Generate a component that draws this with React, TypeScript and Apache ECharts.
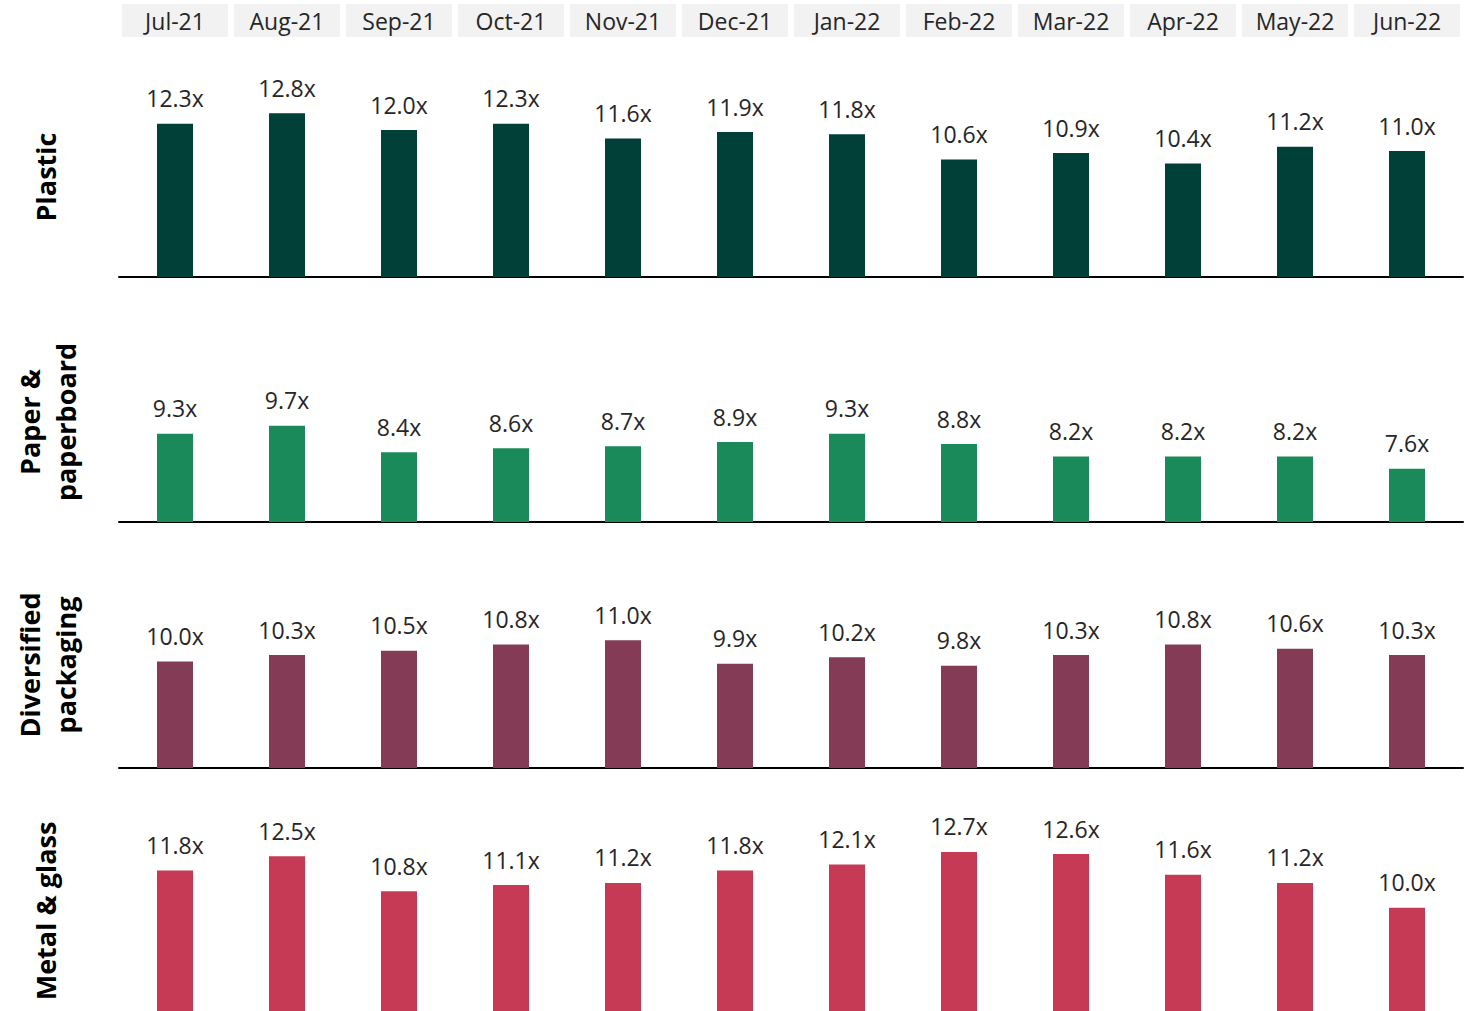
import React, { useEffect, useRef } from "react";
import * as echarts from "echarts";

const months = ["Jul-21", "Aug-21", "Sep-21", "Oct-21", "Nov-21", "Dec-21", "Jan-22", "Feb-22", "Mar-22", "Apr-22", "May-22", "Jun-22"];
const rowNames = ["Plastic", "Paper &\npaperboard", "Diversified\npackaging", "Metal & glass"];
const plastic = [12.3, 12.8, 12.0, 12.3, 11.6, 11.9, 11.8, 10.6, 10.9, 10.4, 11.2, 11.0];
const paper = [9.3, 9.7, 8.4, 8.6, 8.7, 8.9, 9.3, 8.8, 8.2, 8.2, 8.2, 7.6];
const diversified = [10.0, 10.3, 10.5, 10.8, 11.0, 9.9, 10.2, 9.8, 10.3, 10.8, 10.6, 10.3];
const metal = [11.8, 12.5, 10.8, 11.1, 11.2, 11.8, 12.1, 12.7, 12.6, 11.6, 11.2, 10.0];
const seriesData = [plastic, paper, diversified, metal];
const colors = ["#013f39", "#1b8a5a", "#833b56", "#c73a55"];

// layout (px)
const grids = [
  { top: 67, height: 210, axisLine: true },
  { top: 317, height: 205, axisLine: true },
  { top: 555, height: 213, axisLine: true },
  { top: 804.5, height: 211, axisLine: false },
];
const labelCenters = [
  { x: 45, y: 177 },
  { x: 47, y: 422 },
  { x: 47, y: 665 },
  { x: 45, y: 911 },
];

export default function App() {
  const ref = useRef<HTMLDivElement>(null);
  useEffect(() => {
    if (!ref.current) return;
    const chart = echarts.init(ref.current, null, { renderer: "svg" });
    const font = "'Open Sans', sans-serif";
    const option: any = {
      animation: false,
      backgroundColor: "#ffffff",
      grid: grids.map((g) => ({ left: 119, right: 8, top: g.top, height: g.height })),
      xAxis: [
        ...grids.map((g, i) => ({
          type: "category",
          gridIndex: i,
          data: months,
          axisLabel: { show: false },
          axisTick: { show: false },
          axisLine: { show: g.axisLine, lineStyle: { color: "#000000", width: 2 } },
        })),
        {
          type: "category",
          gridIndex: 0,
          position: "top",
          offset: 30,
          data: months,
          axisLine: { show: false },
          axisTick: { show: false },
          axisLabel: {
            margin: 0,
            interval: 0,
            color: "#262626",
            fontFamily: font,
            fontSize: 23,
            backgroundColor: "#f2f2f2",
            width: 106,
            height: 33,
            lineHeight: 33,
            align: "center",
          },
        },
      ],
      yAxis: grids.map((_, i) => ({
        type: "value",
        gridIndex: i,
        min: 5,
        max: 15,
        show: false,
        splitLine: { show: false },
      })),
      series: seriesData.map((d, i) => ({
        type: "bar",
        xAxisIndex: i,
        yAxisIndex: i,
        data: d,
        barWidth: 36,
        itemStyle: { color: colors[i] },
        label: {
          show: true,
          position: "top",
          distance: 14,
          color: "#262626",
          fontFamily: font,
          fontSize: 23,
          formatter: (p: any) => Number(p.value).toFixed(1) + "x",
        },
      })),
      graphic: rowNames.map((name, i) => ({
        type: "text",
        x: labelCenters[i].x,
        y: labelCenters[i].y,
        rotation: Math.PI / 2,
        style: {
          text: name,
          align: "center",
          verticalAlign: "middle",
          fontFamily: font,
          fontWeight: "bold",
          fontSize: 27,
          lineHeight: 36,
          fill: "#000000",
        },
      })),
    };
    chart.setOption(option);
    return () => chart.dispose();
  }, []);
  return (
    <div
      ref={ref}
      style={{ position: "fixed", left: 0, top: 0, width: 1471, height: 1011, background: "#fff" }}
    />
  );
}
